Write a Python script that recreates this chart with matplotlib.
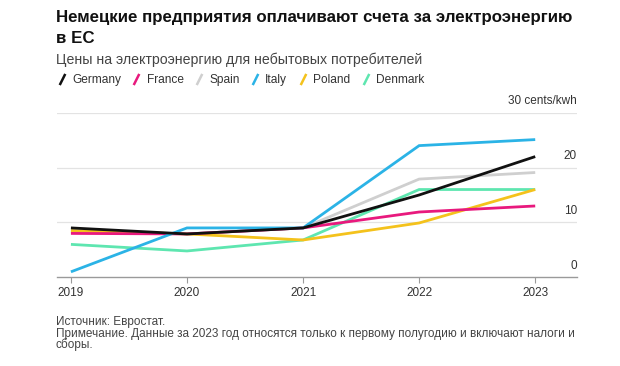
import matplotlib
matplotlib.use('Agg')
import matplotlib.pyplot as plt
from matplotlib.lines import Line2D
from matplotlib.transforms import offset_copy

plt.rcParams['font.family'] = ['Liberation Sans', 'DejaVu Sans']

# data (cents/kWh)
years = [2019, 2020, 2021, 2022, 2023]
countries = ['Germany', 'France', 'Spain', 'Italy', 'Poland', 'Denmark']
germany = [9.0, 7.9, 9.0, 15.0, 22.0]
france = [8.0, 7.9, 9.0, 11.9, 13.0]
spain = [8.5, 7.9, 9.0, 17.9, 19.1]
italy = [1.0, 9.0, 9.0, 24.0, 25.1]
poland = [8.5, 7.9, 6.8, 9.9, 16.0]
denmark = [6.0, 4.8, 6.8, 16.0, 16.0]
colors = ['#111111', '#e8197d', '#cfcfcf', '#2bb3e6', '#f4c21c', '#5ee6b0']
yticks = [0, 10, 20, 30]
ytick_labels = ['0', '10', '20', '30 cents/kwh']

title_lines = ['Немецкие предприятия оплачивают счета за электроэнергию', 'в ЕС']
subtitle = 'Цены на электроэнергию для небытовых потребителей'
footer_lines = ['Источник: Евростат.',
                'Примечание. Данные за 2023 год относятся только к первому полугодию и включают налоги и',
                'сборы.']

W, H = 620, 366
fig = plt.figure(figsize=(W / 100, H / 100), dpi=100)
ax = fig.add_axes([57 / W, 1 - 277.3 / H, 520 / W, 164.6 / H])

series = [germany, france, spain, italy, poland, denmark]
# draw order so black sits on top like the original
order = [2, 5, 4, 1, 3, 0]
for i in order:
    ax.plot(years, series[i], color=colors[i], lw=2, solid_capstyle='butt',
            solid_joinstyle='miter', zorder=3 + order.index(i))

ax.set_xlim(2018.88, 2023.36)
ax.set_ylim(0, 30)
for v in yticks[1:]:
    ax.axhline(v, color='#e3e3e3', lw=0.9, zorder=1)

for s in ['top', 'right', 'left']:
    ax.spines[s].set_visible(False)
ax.spines['bottom'].set_color('#9a9a9a')
ax.spines['bottom'].set_linewidth(1)
ax.set_xticks(years)
ax.set_xticklabels([str(y) for y in years], fontsize=8.5, color='#333333')
ax.tick_params(axis='x', length=4, color='#9a9a9a', pad=3)
ax.set_yticks([])

# y labels sit above the gridlines at the right edge
trans = offset_copy(ax.get_yaxis_transform(), fig=fig, x=0, y=4, units='points')
for v, lab in zip(yticks, ytick_labels):
    ax.text(1.0, v, lab, transform=trans, ha='right', va='bottom',
            fontsize=8.5, color='#333333')

for k, line in enumerate(title_lines):
    fig.text(56 / W, 1 - (21.7 + 21 * k) / H, line, ha='left', va='baseline',
             fontsize=12.15, fontweight='bold', color='#111111')
fig.text(56 / W, 1 - 64 / H, subtitle, ha='left', va='baseline', fontsize=10.2,
         color='#444444')

handles = [Line2D([], [], ls='none', marker=[(-0.5, -1), (0.5, 1)], markersize=8,
                  markeredgewidth=1.8, color=c) for c in colors]
fig.legend(handles, countries, loc='center left', bbox_to_anchor=(57 / W, 1 - 80 / H),
           ncol=6, frameon=False, fontsize=8.6, handlelength=0.8, handletextpad=0.45,
           columnspacing=0.9, borderaxespad=0, borderpad=0, labelcolor='#333333')

for k, line in enumerate(footer_lines):
    fig.text(56 / W, 1 - (325 + 11.5 * k) / H, line, ha='left', va='baseline',
             fontsize=8.5, color='#444444')

fig.savefig('out.png', dpi=100, facecolor='white')
